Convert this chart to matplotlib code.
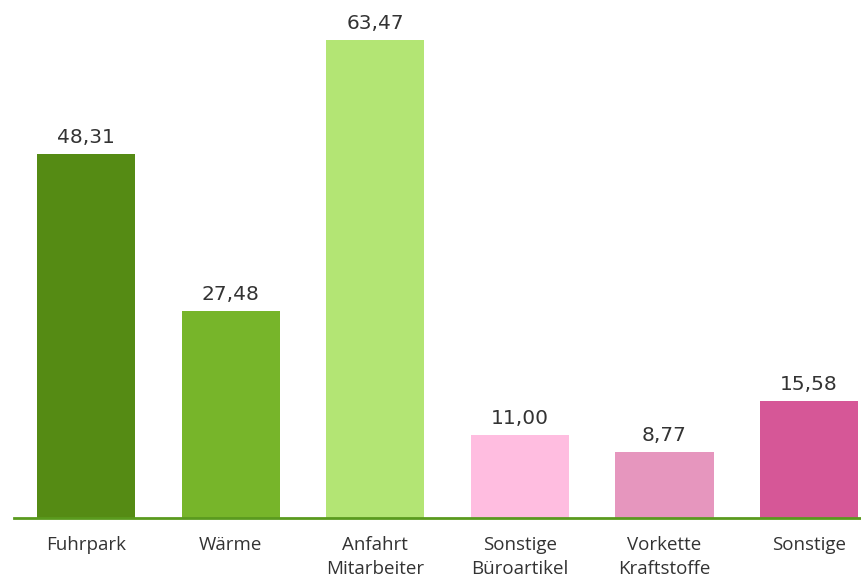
import matplotlib.pyplot as plt

categories = ['Fuhrpark', 'Wärme', 'Anfahrt\nMitarbeiter', 'Sonstige\nBüroartikel',
              'Vorkette\nKraftstoffe', 'Sonstige']
values = [48.31, 27.48, 63.47, 11.00, 8.77, 15.58]
colors = ['#558b14', '#77b52a', '#b3e574', '#ffbde0', '#e696be', '#d65797']

plt.rcParams['font.family'] = ['Open Sans', 'DejaVu Sans']

fig = plt.figure(figsize=(8.61, 5.79), dpi=100)
ax = fig.add_axes([14 / 861, 61 / 579, 847 / 861, 518 / 579])

x = list(range(len(categories)))
bars = ax.bar(x, values, width=0.68, color=colors, zorder=2)

for b, v in zip(bars, values):
    ax.annotate(f'{v:.2f}'.replace('.', ','), (b.get_x() + b.get_width() / 2, v),
                xytext=(0, 5), textcoords='offset points', ha='center', va='bottom',
                fontsize=14.5, color='#333333', family=['DejaVu Sans'])

ax.set_xlim(-0.5, 5.36)
ax.set_ylim(0, 68.8)
ax.set_xticks(x)
ax.set_xticklabels(categories, fontsize=13.5, color='#333333', linespacing=1.4, va='top')
ax.tick_params(axis='x', length=0, pad=13)
ax.set_yticks([])
for s in ['top', 'right', 'left']:
    ax.spines[s].set_visible(False)
ax.spines['bottom'].set_color('#5a9a1e')
ax.spines['bottom'].set_linewidth(2)
ax.spines['bottom'].set_zorder(3)

fig.savefig('out.png', dpi=100)
